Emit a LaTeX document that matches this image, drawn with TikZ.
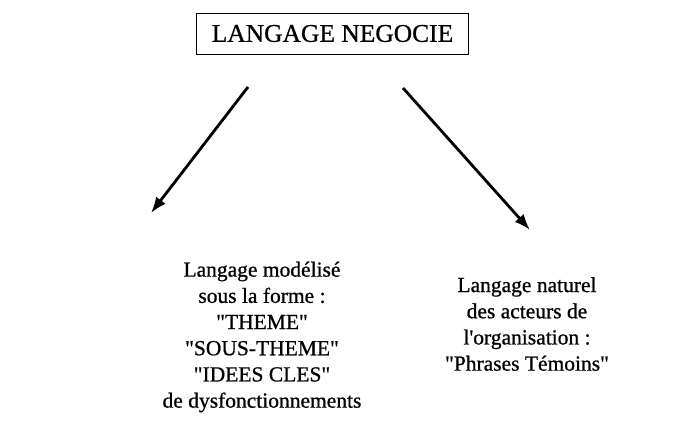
\documentclass[tikz,border=0pt]{standalone}
\usepackage{fontspec}
\setmainfont{Liberation Serif}[FakeBold=0.8]
\usetikzlibrary{arrows.meta}
\tikzset{
    titre/.style={draw,line width=.8pt,minimum width=272pt,minimum height=41pt,
        font=\fontsize{25.5}{28}\selectfont},
    langage/.style={align=center,font=\fontsize{21.5}{26.2}\selectfont}
}
\begin{document}
\begin{tikzpicture}[x=1pt,y=1pt,>={Latex[length=16pt,width=12pt]}]
        \useasboundingbox (0,0) rectangle (675,426);
        \node[titre] (negocie) at (332.5,392.5) {LANGAGE NEGOCIE};
        \node[langage] (modelise) at (262,89) {Langage modélisé\\
            sous la forme :\\
            \textquotedbl THEME\textquotedbl\\
            \textquotedbl SOUS-THEME\textquotedbl\\
            \textquotedbl IDEES CLES\textquotedbl\\
            de dysfonctionnements};
        \node[langage] (naturel) at (527,102) {Langage naturel\\
            des acteurs de\\
            l\textquotesingle organisation :\\
            \textquotedbl Phrases Témoins\textquotedbl};
        \coordinate (gauche) at (248,339);
        \coordinate (droite) at (403,338);
        \draw[->,line width=2.8pt] (gauche)--(151,213);
        \draw[->,line width=2.8pt] (droite)--(530,196);
    \end{tikzpicture}
\end{document}
